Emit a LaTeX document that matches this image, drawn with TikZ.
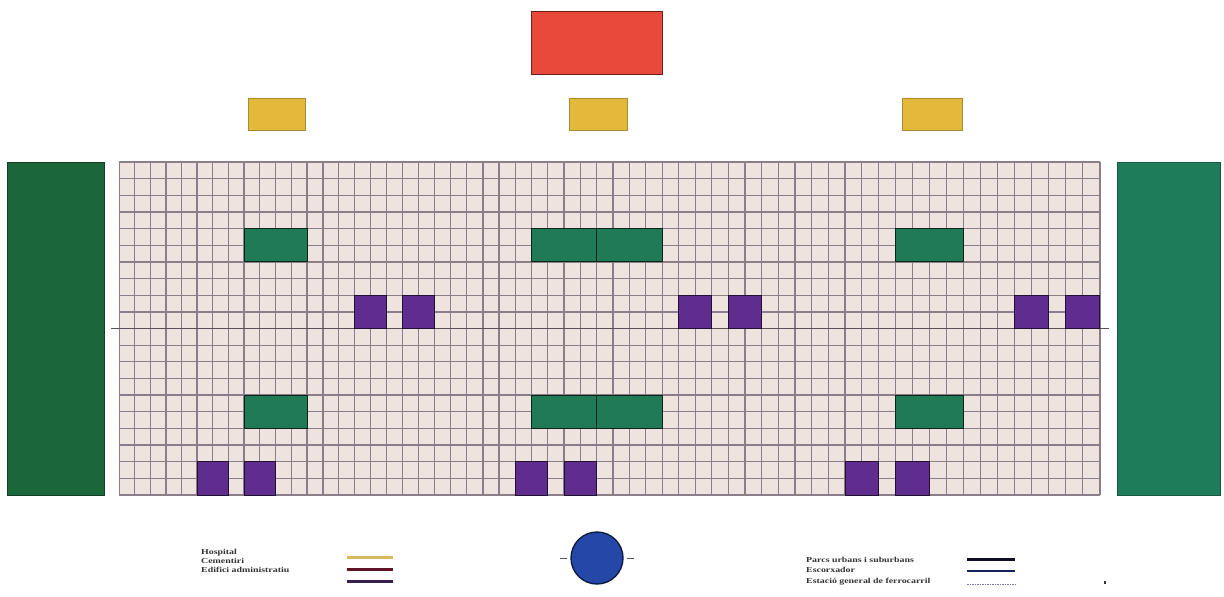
\documentclass[tikz,border=0pt]{standalone}
\usepackage{fontspec}
\setmainfont{Liberation Serif}
\newfontfamily\legfont[FakeStretch=1.3]{Liberation Serif}
\definecolor{gridbg}{HTML}{EFE3E0}
\definecolor{gridln}{HTML}{8A7E88}
\definecolor{axisln}{HTML}{5A5058}
\definecolor{ingreen}{HTML}{1F7A55}
\definecolor{sidegreenL}{HTML}{1B663B}
\definecolor{sidegreenR}{HTML}{1F7C5A}
\definecolor{purp}{HTML}{5E2D8E}
\definecolor{redbox}{HTML}{E9493B}
\definecolor{yellowbox}{HTML}{E3B93C}
\definecolor{hubblue}{HTML}{2447A8}
\definecolor{legyellow}{HTML}{D8B860}
\definecolor{legred}{HTML}{5E1425}
\definecolor{legpurple}{HTML}{35204A}
\definecolor{legblack}{HTML}{0E0E26}
\definecolor{legnavy}{HTML}{18205A}
\begin{document}
\begin{tikzpicture}[x=1pt,y=-1pt,
  declare function={gx(\c)=119.3+15.48*\c+0.01439*\c*\c; gy(\r)=162+16.65*\r;},
  gridline/.style={draw=gridln,line width=1.3pt},
  axisline/.style={draw=axisln,line width=1.1pt},
  greenbox/.style={fill=ingreen,draw=black!70!ingreen,line width=1pt},
  purplebox/.style={fill=purp,draw=black!65!purp,line width=1pt},
  sidebox/.style={line width=0.8pt},
  yellowrect/.style={fill=yellowbox,draw=black!25!yellowbox,line width=0.6pt},
  legtext/.style={anchor=west,inner sep=0pt,font=\legfont\fontsize{7.6}{8}\selectfont\bfseries,text=black!80},
  legline/.style={line width=2.6pt},
  tick/.style={draw=axisln,line width=1pt},
]
\useasboundingbox[fill=white] (0,0) rectangle (1224,597);

% side parks
\fill[sidegreenL,sidebox,draw=black!40!sidegreenL] (7,162) rectangle (104,495);
\fill[sidegreenR,sidebox,draw=black!30!sidegreenR] (1117,162) rectangle (1220,495);

% top buildings
\draw[fill=redbox,draw=black!55!redbox,line width=1pt] ({gx(26)},11) rectangle ({gx(34)},74);
\draw[yellowrect] (248,98) rectangle (305,130);
\draw[yellowrect] (569,98) rectangle (627,130);
\draw[yellowrect] (902,98) rectangle (962,130);

% grid
\fill[gridbg] ({gx(0)},{gy(0)}) rectangle ({gx(60)},{gy(20)});
\foreach \i in {0,...,60} \draw[gridline] ({gx(\i)},{gy(0)}) -- ({gx(\i)},{gy(20)});
\foreach \j in {0,...,20} \draw[gridline] ({gx(0)},{gy(\j)}) -- ({gx(60)},{gy(\j)});
\draw[axisline] (111,{gy(10)}) -- (1109,{gy(10)});

% green blocks
\foreach \c/\w in {8/4,26/4,30/4,48/4} {
  \draw[greenbox] ({gx(\c)},{gy(4)}) rectangle ({gx(\c+\w)},{gy(6)});
  \draw[greenbox] ({gx(\c)},{gy(14)}) rectangle ({gx(\c+\w)},{gy(16)});
}
% purple blocks
\foreach \c in {15,18,35,38,55,58}
  \draw[purplebox] ({gx(\c)},{gy(8)}) rectangle ({gx(\c+2)},{gy(10)});
\foreach \c in {5,8,25,28,45,48}
  \draw[purplebox] ({gx(\c)},{gy(18)}) rectangle ({gx(\c+2)},{gy(20)});

% central station circle with its two short ticks
\node[circle,minimum size=52pt,inner sep=0pt,fill=hubblue,draw=black!60!hubblue,line width=1.4pt] (hub) at (597,558) {};
\coordinate (tla) at (560,558); \coordinate (tlb) at (567,558);
\coordinate (tra) at (627,558); \coordinate (trb) at (634,558);
\draw[tick] (tla) -- (tlb);
\draw[tick] (tra) -- (trb);

% legend left
\node[legtext] (l1) at (201,552.5) {Hospital};
\node[legtext] (l2) at (201,561) {Cementiri};
\node[legtext] (l3) at (201,569.5) {Edifici administratiu};
\coordinate (a1) at (347,557.5); \coordinate (b1) at (393,557.5);
\coordinate (a2) at (347,569.5); \coordinate (b2) at (393,569.5);
\coordinate (a3) at (347,581.5); \coordinate (b3) at (393,581.5);
\draw[legline,legyellow] (a1) -- (b1);
\draw[legline,legred] (a2) -- (b2);
\draw[legline,legpurple] (a3) -- (b3);

% legend right
\node[legtext] (r1) at (806,560) {Parcs urbans i suburbans};
\node[legtext] (r2) at (806,570) {Escorxador};
\node[legtext] (r3) at (806,582) {Estació general de ferrocarril};
\coordinate (c1) at (967,559.5); \coordinate (d1) at (1015,559.5);
\coordinate (c2) at (967,571); \coordinate (d2) at (1015,571);
\coordinate (c3) at (967,584.5); \coordinate (d3) at (1015,584.5);
\draw[legline,legblack] (c1) -- (d1);
\draw[legline,legnavy] (c2) -- (d2);
\draw[line width=0.8pt,legnavy!60,dash pattern=on 1.5pt off 1pt] (c3) -- (d3);
\coordinate (m1) at (1105,580.5); \coordinate (m2) at (1105,584);
\draw[line width=1.4pt,black!80] (m1) -- (m2);
\end{tikzpicture}
\end{document}
